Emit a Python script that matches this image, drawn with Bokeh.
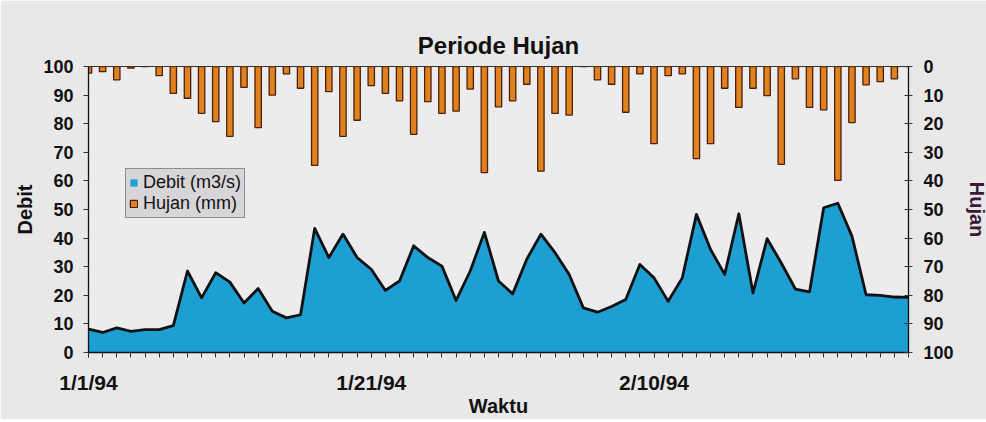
import pandas as pd
from bokeh.plotting import figure
from bokeh.models import (Range1d, LinearAxis, FixedTicker, Legend, LegendItem)
from bokeh.embed import file_html
from bokeh.resources import INLINE

# ---- data ----
dates = pd.date_range("1994-01-01", "1994-02-28", freq="D")
debit = [8.2, 7.0, 8.6, 7.4, 8.0, 8.0, 9.4, 28.5, 19.1, 27.9, 24.6, 17.3, 22.4, 14.4,
         12.1, 13.2, 43.4, 33.2, 41.4, 33.2, 29.1, 21.7, 25.0, 37.3, 33.2, 30.2, 18.2,
         28.5, 42.0, 25.0, 20.5, 32.6, 41.4, 34.9, 27.3, 15.6, 14.1, 16.1, 18.5, 30.8,
         26.1, 17.9, 26.1, 48.3, 36.0, 27.3, 48.5, 20.8, 39.8, 31.3, 22.2, 21.2, 50.6,
         52.2, 40.7, 20.2, 20.0, 19.4, 19.3]
hujan = [2.3, 1.8, 4.7, 0.6, 0, 3.2, 9.4, 11.1, 16.4, 19.3, 24.4, 7.3, 21.4, 10.0,
         2.6, 7.6, 34.6, 8.8, 24.4, 18.8, 6.7, 9.4, 12.0, 23.7, 12.3, 16.4, 15.6, 7.9,
         37.1, 14.1, 12.0, 6.2, 36.6, 16.4, 17.0, 0, 4.7, 6.2, 16.0, 2.6, 27.0, 3.2,
         2.6, 32.2, 27.0, 7.6, 14.3, 7.6, 10.2, 34.2, 4.3, 14.3, 15.2, 39.8, 19.6, 6.4,
         5.3, 4.3, 0]
x_tick_days = [0, 20, 40]
x_tick_labels = ["1/1/94", "1/21/94", "2/10/94"]
y_ticks = list(range(0, 101, 10))

days = [(d - dates[0]).days for d in dates]

FONT = "Liberation Sans"

p = figure(frame_width=820, frame_height=286, output_backend="svg", toolbar_location=None,
           x_range=Range1d(0, days[-1]), y_range=Range1d(0, 100),
           min_border_left=88, min_border_right=76, min_border_top=66,
           min_border_bottom=66)
p.extra_y_ranges = {"hujan": Range1d(100, 0)}

p.background_fill_color = "#ececee"
p.border_fill_color = "#e8e8e8"
p.outline_line_color = "#333333"
p.xgrid.visible = False
p.ygrid.visible = False

# title
p.title.text = "Periode Hujan"
p.title.align = "center"
p.title.text_font = FONT
p.title.text_font_size = "24px"
p.title.text_font_style = "bold"
p.title.text_color = "#111111"
p.title.standoff = 15

# area
area = p.varea(x=days, y1=0, y2=debit, fill_color="#1e9fd3")
p.line(x=days, y=debit, line_color="#111111", line_width=2.8, line_join="round")

# bars (secondary reversed axis)
bars = p.vbar(x=days, top=0, bottom=hujan, width=0.45, y_range_name="hujan",
              fill_color="#e2811f", line_color="#4a2208", line_width=1.3)

# x axis
xa = p.xaxis[0]
xa.ticker = FixedTicker(ticks=x_tick_days, minor_ticks=days)
xa.major_label_overrides = {d: l for d, l in zip(x_tick_days, x_tick_labels)}
xa.axis_label = "Waktu"
xa.major_tick_in = 0
xa.major_tick_out = 5
xa.minor_tick_in = 0
xa.minor_tick_out = 5
xa.major_label_standoff = 13

# left axis
ya = p.yaxis[0]
ya.ticker = FixedTicker(ticks=y_ticks, minor_ticks=[])
ya.axis_label = "Debit"
ya.major_tick_in = 0
ya.major_tick_out = 5
ya.major_label_standoff = 10

# right axis
ra = LinearAxis(y_range_name="hujan", ticker=FixedTicker(ticks=y_ticks, minor_ticks=[]),
                axis_label="Hujan")
ra.major_tick_in = 4
ra.major_tick_out = 4
ra.major_label_standoff = 11
p.add_layout(ra, "right")

for ax in [xa, ya, ra]:
    ax.axis_line_color = "#111111"
    ax.axis_line_width = 1.3
    ax.major_tick_line_color = "#333333"
    ax.minor_tick_line_color = "#333333"
    ax.major_label_text_font = FONT
    ax.major_label_text_font_style = "bold"
    ax.major_label_text_font_size = "18px"
    ax.major_label_text_color = "#111111"
    ax.axis_label_text_font = FONT
    ax.axis_label_text_font_style = "bold"
    ax.axis_label_text_font_size = "20px"
    ax.axis_label_text_color = "#111111"
    ax.axis_label_standoff = 4
xa.major_label_text_font_size = "21px"
xa.axis_label_standoff = -2
ra.axis_label_standoff = 9
ra.axis_label_text_color = "#3c1838"

legend = Legend(items=[LegendItem(label="Debit (m3/s)", renderers=[area]),
                       LegendItem(label="Hujan (mm)", renderers=[bars])],
                location=(37, 134))
legend.label_text_font = FONT
legend.label_text_font_size = "18px"
legend.label_text_color = "#111111"
legend.label_height = 15
legend.label_text_line_height = 1.0
legend.glyph_height = 9
legend.glyph_width = 9
legend.spacing = 0
legend.padding = 3
legend.margin = 0
legend.label_standoff = 5
legend.background_fill_color = "#d8d5d8"
legend.background_fill_alpha = 1.0
legend.border_line_color = "#444444"
legend.border_line_width = 1
p.add_layout(legend, "center")

with open("out.html", "w") as f:
    f.write(file_html(p, INLINE))
